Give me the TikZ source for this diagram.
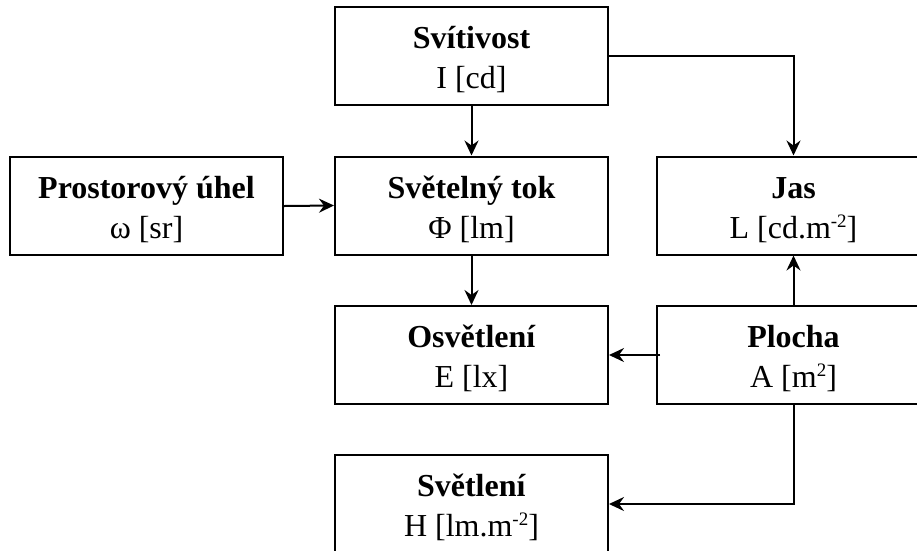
\documentclass[tikz,border=0pt]{standalone}
\usepackage{fontspec}
\setmainfont{Liberation Serif}
\usetikzlibrary{arrows.meta}
\newcommand{\supx}[1]{\raisebox{11pt}{\fontsize{19}{19}\selectfont #1}}
\begin{document}
\begin{tikzpicture}[x=1pt,y=-1pt,
  box/.style={draw,line width=2pt,minimum width=273pt,minimum height=98pt,inner sep=0pt,
    align=center,font=\fontsize{32}{40}\selectfont},
  conn/.style={line width=2pt,-{Stealth[length=15pt,width=14pt,inset=5pt]}},
  plain/.style={line width=2pt}]
\clip (0,0) rectangle (917,550);
\fill[white] (0,0) rectangle (917,550);
\node[box] (sv) at (471.5,56) {\rule{0pt}{30pt}\textbf{Svítivost}\\I [cd]};
\node[box] (pu) at (146.5,206) {\rule{0pt}{30pt}\textbf{Prostorový úhel}\\ω [sr]};
\node[box] (st) at (471.5,205.5) {\rule{0pt}{30pt}\textbf{Světelný tok}\\Φ [lm]};
\node[box] (jas) at (793.5,205.5) {\rule{0pt}{30pt}\textbf{Jas}\\L [cd.m\supx{-2}]};
\node[box] (osv) at (471.5,355) {\rule{0pt}{30pt}\textbf{Osvětlení}\\E [lx]};
\node[box] (pl) at (793.5,355) {\rule{0pt}{30pt}\textbf{Plocha}\\A [m\supx{2}]};
\node[box] (svl) at (471.5,504) {\rule{0pt}{30pt}\textbf{Světlení}\\H [lm.m\supx{-2}]};
\draw[conn] (sv.south) -- (st.north);
\draw[conn] (sv.east) -| (jas.north);
\draw[conn] (pu.east) -- (st.west);
\draw[conn] (st.south) -- (osv.north);
\draw[conn] (pl.north) -- (jas.south);
\draw[conn] ([xshift=4pt]pl.west) -- (osv.east);
\draw[conn] (pl.south) |- (svl.east);
\end{tikzpicture}
\end{document}
